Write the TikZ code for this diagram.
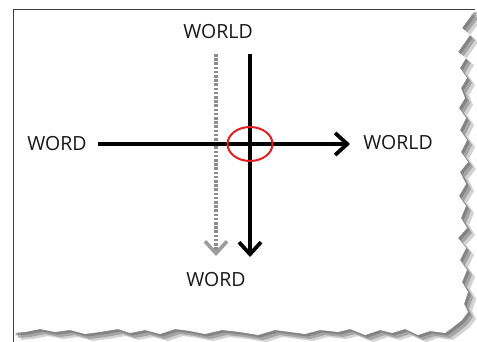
\documentclass[tikz,border=0pt]{standalone}
\usepackage{fontspec}
\setmainfont{Open Sans}
\usetikzlibrary{arrows.meta,shapes.geometric}
\definecolor{ringred}{RGB}{225,30,35}
\definecolor{dotgray}{RGB}{140,140,140}
\definecolor{shadowgray}{RGB}{110,110,110}
\begin{document}
\begin{tikzpicture}[x=1pt,y=-1pt,
  lbl/.style={inner sep=0pt, font=\fontsize{19.5}{20}\selectfont, text=black!90},
  mainline/.style={line width=3.4pt, draw=black},
  arr/.style={-{Straight Barb[length=12pt,width=22pt,line width=3.8pt]}},
  dotline/.style={line width=3.4pt, draw=dotgray, dash pattern=on 2.6pt off 1.6pt},
  dotarr/.style={-{Straight Barb[length=12pt,width=22pt,line width=3.6pt,color=dotgray!85]}}]
\useasboundingbox (0,0) rectangle (477,342);
\fill[white] (0,0) rectangle (477,342);
% torn paper: shadow then paper
\def\tornpath{(13,10) -- (475,10) -- (468,20) -- (462,28) -- (470,35) -- (463,45) -- (458,52) -- (466,58) -- (460,68) -- (467,78) -- (461,88) -- (465,98) -- (459,108) -- (466,118) -- (460,130) -- (467,140) -- (461,152) -- (468,162) -- (460,172) -- (466,184) -- (459,196) -- (466,206) -- (461,218) -- (467,228) -- (458,238) -- (466,248) -- (460,260) -- (467,270) -- (462,282) -- (468,292) -- (464,304) -- (468,312) -- (462,320) -- (452,328) -- (445,333) -- (430,331) -- (418,335) -- (405,329) -- (392,333) -- (380,330) -- (365,335) -- (350,329) -- (338,332) -- (320,330) -- (305,334) -- (290,332) -- (275,330) -- (258,335) -- (240,332) -- (222,330) -- (205,334) -- (190,331) -- (175,329) -- (160,334) -- (145,330) -- (130,333) -- (118,329) -- (100,332) -- (85,334) -- (70,330) -- (55,332) -- (40,329) -- (25,332) -- (13,333) -- cycle}
\fill[shadowgray, opacity=0.3, shift={(8,7)}] \tornpath;
\fill[shadowgray, opacity=0.45, shift={(5,5)}] \tornpath;
\fill[shadowgray, opacity=0.6, shift={(2.5,2.5)}] \tornpath;
\fill[white] \tornpath;
\draw[line width=1pt, black!75] (13,342) -- (13,10) -- (475,10);
% labels
\node[lbl] (wl) at (57,144) {WORD};
\node[lbl] (wr) at (398,143) {WORLD};
\node[lbl] (wt) at (218,32) {WORLD};
\node[lbl] (wb) at (216,280) {WORD};
% connector ends
\coordinate (h1) at (98,144);
\coordinate (h2) at (350,144);
\coordinate (v1) at (250,54);
\coordinate (v2) at (250,257);
\coordinate (d1) at (216,54);
\coordinate (d2) at (216,256);
% dotted arrow
\draw[dotline, dotarr] (d1) -- (d2);
% solid arrows
\draw[mainline, arr] (h1) -- (h2);
\draw[mainline, arr] (v1) -- (v2);
% red ring
\node[draw=ringred, line width=2pt, ellipse, minimum width=45pt, minimum height=34pt, inner sep=0pt] (ring) at (250,144) {};
\end{tikzpicture}
\end{document}
